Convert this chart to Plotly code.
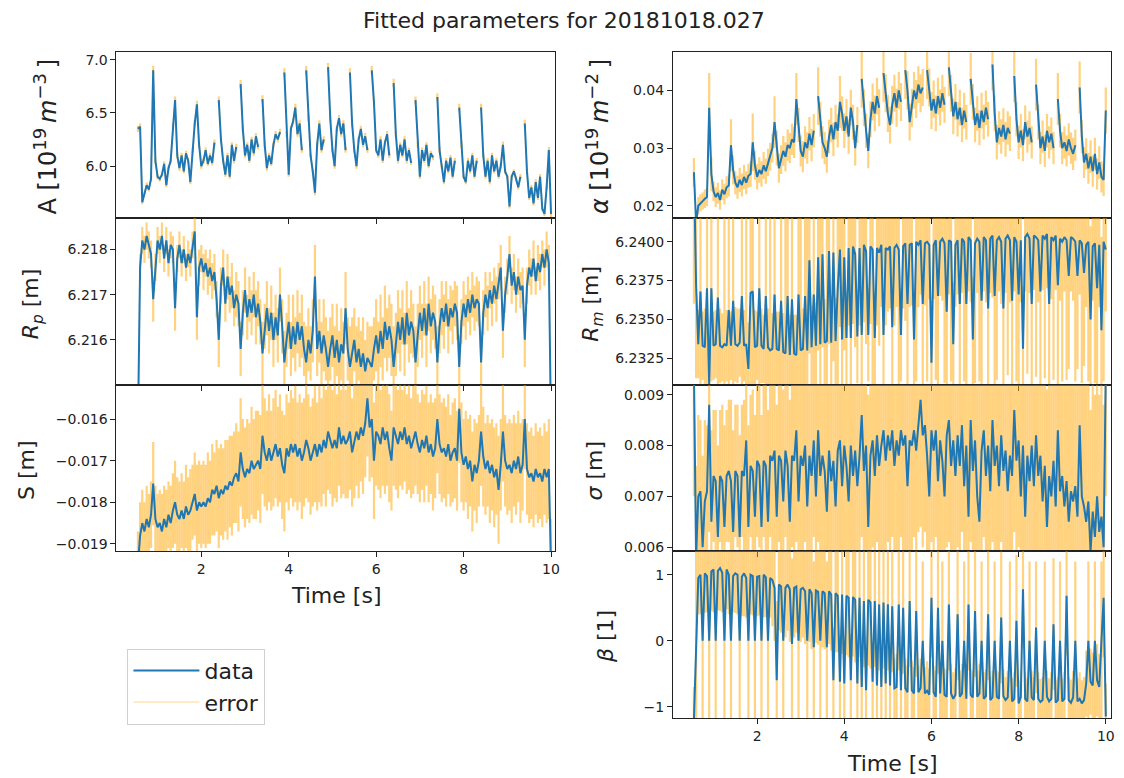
import plotly.graph_objects as go

# ---------------- data ----------------
time = [
    0.55, 0.60, 0.65, 0.70, 0.75, 0.80, 0.85, 0.90, 0.95, 1.00,
    1.05, 1.10, 1.15, 1.20, 1.25, 1.30, 1.35, 1.40, 1.45, 1.50,
    1.55, 1.60, 1.65, 1.70, 1.75, 1.80, 1.85, 1.90, 1.95, 2.00,
    2.05, 2.10, 2.15, 2.20, 2.25, 2.30, 2.35, 2.40, 2.45, 2.50,
    2.55, 2.60, 2.65, 2.70, 2.75, 2.80, 2.85, 2.90, 2.95, 3.00,
    3.05, 3.10, 3.15, 3.20, 3.25, 3.30, 3.35, 3.40, 3.45, 3.50,
    3.55, 3.60, 3.65, 3.70, 3.75, 3.80, 3.85, 3.90, 3.95, 4.00,
    4.05, 4.10, 4.15, 4.20, 4.25, 4.30, 4.35, 4.40, 4.45, 4.50,
    4.55, 4.60, 4.65, 4.70, 4.75, 4.80, 4.85, 4.90, 4.95, 5.00,
    5.05, 5.10, 5.15, 5.20, 5.25, 5.30, 5.35, 5.40, 5.45, 5.50,
    5.55, 5.60, 5.65, 5.70, 5.75, 5.80, 5.85, 5.90, 5.95, 6.00,
    6.05, 6.10, 6.15, 6.20, 6.25, 6.30, 6.35, 6.40, 6.45, 6.50,
    6.55, 6.60, 6.65, 6.70, 6.75, 6.80, 6.85, 6.90, 6.95, 7.00,
    7.05, 7.10, 7.15, 7.20, 7.25, 7.30, 7.35, 7.40, 7.45, 7.50,
    7.55, 7.60, 7.65, 7.70, 7.75, 7.80, 7.85, 7.90, 7.95, 8.00,
    8.05, 8.10, 8.15, 8.20, 8.25, 8.30, 8.35, 8.40, 8.45, 8.50,
    8.55, 8.60, 8.65, 8.70, 8.75, 8.80, 8.85, 8.90, 8.95, 9.00,
    9.05, 9.10, 9.15, 9.20, 9.25, 9.30, 9.35, 9.40, 9.45, 9.50,
    9.55, 9.60, 9.65, 9.70, 9.75, 9.80, 9.85, 9.90, 9.95, 10.00,
]

A = [
    6.35, 6.37, 5.66, 5.75, 5.82, 5.78, 5.88, 6.90, 6.05, 5.90,
    5.88, 5.92, 6.02, 5.82, 5.98, 6.05, 6.38, 6.62, 6.10, 5.98,
    6.10, 5.95, 6.12, 6.05, 5.85, 6.15, 6.40, 6.58, 6.20, 6.00,
    6.05, 6.15, 6.02, 6.10, 6.03, 6.22, None, 6.62, 6.25, 6.05,
    5.92, 6.10, 5.90, 6.20, 6.05, 6.18, None, 6.77, 6.35, 6.10,
    6.20, 6.05, 6.25, 6.12, 6.28, 6.18, None, 6.63, 6.20, 5.98,
    6.10, 6.02, 6.20, 6.30, 6.25, 6.32, None, 6.88, 6.30, 5.92,
    6.35, 6.42, 6.55, 6.30, 6.40, 6.15, None, 6.90, 6.45, 6.10,
    5.95, 5.75, 6.20, 6.40, 6.15, 6.25, None, 6.93, 6.45, 6.15,
    6.00, 6.35, 6.45, 6.30, 6.40, 6.15, None, 6.88, 6.40, 6.15,
    6.00, 6.25, 6.35, 6.20, 6.28, 6.15, None, 6.90, 6.60, 6.15,
    6.10, 6.25, 6.05, 6.22, 6.30, 6.10, None, 6.78, 6.30, 6.05,
    6.20, 6.10, 6.25, 6.05, 6.15, 6.03, None, 6.62, 6.20, 5.90,
    6.15, 6.05, 6.20, 6.00, 6.12, 6.08, None, 6.65, 6.15, 6.00,
    5.85, 6.05, 5.95, 6.08, 5.90, 6.05, None, 6.55, 6.20, 5.90,
    5.85, 6.05, 5.95, 6.10, 5.90, 6.05, None, 6.55, 6.10, 5.90,
    6.05, 5.85, 6.10, 5.95, 6.05, 5.90, 6.00, 6.20, 5.95, 5.90,
    5.62, 5.90, 5.95, 5.88, 5.80, 5.90, None, 6.40, 5.95, 5.70,
    5.80, 5.65, 5.85, 5.70, 5.90, 5.60, 5.55, 5.80, 6.15, 5.55,
]
A_err = [
    0.03, 0.03, 0.02, 0.02, 0.025, 0.02, 0.025, 0.04, 0.03, 0.025,
    0.025, 0.02, 0.025, 0.02, 0.025, 0.025, 0.03, 0.035, 0.03, 0.025,
    0.025, 0.02, 0.025, 0.025, 0.02, 0.025, 0.03, 0.035, 0.03, 0.025,
    0.025, 0.025, 0.02, 0.025, 0.025, 0.03, 0, 0.035, 0.03, 0.025,
    0.02, 0.025, 0.02, 0.025, 0.025, 0.03, 0, 0.04, 0.03, 0.025,
    0.025, 0.02, 0.025, 0.025, 0.03, 0.025, 0, 0.035, 0.03, 0.025,
    0.025, 0.02, 0.025, 0.03, 0.025, 0.03, 0, 0.04, 0.03, 0.02,
    0.03, 0.03, 0.035, 0.025, 0.03, 0.025, 0, 0.04, 0.03, 0.025,
    0.02, 0.025, 0.025, 0.03, 0.025, 0.03, 0, 0.04, 0.03, 0.025,
    0.025, 0.03, 0.03, 0.025, 0.03, 0.025, 0, 0.04, 0.03, 0.025,
    0.025, 0.025, 0.03, 0.025, 0.03, 0.025, 0, 0.04, 0.035, 0.025,
    0.025, 0.03, 0.02, 0.025, 0.03, 0.025, 0, 0.04, 0.03, 0.025,
    0.025, 0.02, 0.03, 0.025, 0.025, 0.02, 0, 0.035, 0.03, 0.02,
    0.025, 0.02, 0.025, 0.02, 0.025, 0.025, 0, 0.035, 0.03, 0.025,
    0.02, 0.025, 0.02, 0.025, 0.02, 0.025, 0, 0.035, 0.03, 0.02,
    0.02, 0.025, 0.02, 0.025, 0.02, 0.025, 0, 0.035, 0.025, 0.02,
    0.025, 0.02, 0.025, 0.02, 0.025, 0.02, 0.025, 0.03, 0.025, 0.02,
    0.02, 0.025, 0.02, 0.025, 0.02, 0.025, 0, 0.035, 0.025, 0.02,
    0.025, 0.02, 0.025, 0.02, 0.025, 0.02, 0.02, 0.025, 0.03, 0.03,
]

alpha = [
    0.0258, 0.0170, 0.0200, 0.0205, 0.0208, 0.0212, 0.0215, 0.0370, 0.0255, 0.0225,
    0.0215, 0.0222, 0.0210, 0.0228, 0.0220, 0.0232, 0.0235, 0.0305, 0.0262, 0.0240,
    0.0232, 0.0245, 0.0236, 0.0250, 0.0240, 0.0252, 0.0255, 0.0310, 0.0270, 0.0250,
    0.0262, 0.0255, 0.0270, 0.0260, 0.0275, 0.0285, 0.0300, 0.0345, 0.0300, 0.0265,
    0.0280, 0.0295, 0.0285, 0.0305, 0.0300, 0.0315, 0.0310, 0.0385, 0.0340, 0.0295,
    0.0285, 0.0310, 0.0300, 0.0325, 0.0305, 0.0330, None, 0.0390, 0.0350, 0.0310,
    0.0300, 0.0285, 0.0320, 0.0340, 0.0315, 0.0345, 0.0330, 0.0380, 0.0360, 0.0330,
    0.0355, 0.0320, 0.0370, 0.0345, 0.0300, 0.0340, None, 0.0420, 0.0370, 0.0330,
    0.0295, 0.0350, 0.0380, 0.0360, 0.0390, 0.0370, None, 0.0430, 0.0395, 0.0360,
    0.0340, 0.0375, 0.0395, 0.0370, 0.0400, 0.0380, None, 0.0435, 0.0400, 0.0345,
    0.0370, 0.0400, 0.0385, 0.0410, 0.0395, 0.0405, None, 0.0435, 0.0405, 0.0365,
    0.0385, 0.0360, 0.0390, 0.0370, 0.0395, 0.0375, None, 0.0440, 0.0395, 0.0355,
    0.0380, 0.0350, 0.0370, 0.0340, 0.0365, 0.0345, None, 0.0420, 0.0380, 0.0340,
    0.0360, 0.0335, 0.0365, 0.0345, 0.0370, 0.0350, None, 0.0445, 0.0360, 0.0310,
    0.0335, 0.0320, 0.0340, 0.0315, 0.0335, 0.0325, None, 0.0425, 0.0350, 0.0310,
    0.0330, 0.0305, 0.0345, 0.0320, 0.0335, 0.0310, None, 0.0410, 0.0345, 0.0300,
    0.0320, 0.0295, 0.0330, 0.0310, 0.0325, 0.0300, None, 0.0385, 0.0330, 0.0300,
    0.0310, 0.0295, 0.0315, 0.0300, 0.0290, 0.0305, None, 0.0405, 0.0320, 0.0275,
    0.0290, 0.0265, 0.0285, 0.0260, 0.0290, 0.0255, 0.0275, 0.0250, 0.0245, 0.0365,
]
alpha_err = [
    0.0025, 0.0020, 0.0015, 0.0015, 0.0015, 0.0016, 0.0016, 0.0060, 0.0030, 0.0017,
    0.0017, 0.0018, 0.0017, 0.0018, 0.0018, 0.0019, 0.0019, 0.0045, 0.0025, 0.0020,
    0.0020, 0.0021, 0.0020, 0.0021, 0.0020, 0.0021, 0.0022, 0.0050, 0.0025, 0.0022,
    0.0022, 0.0022, 0.0023, 0.0022, 0.0024, 0.0024, 0.0025, 0.0045, 0.0030, 0.0025,
    0.0025, 0.0026, 0.0025, 0.0027, 0.0026, 0.0027, 0.0027, 0.0045, 0.0030, 0.0027,
    0.0027, 0.0028, 0.0027, 0.0029, 0.0028, 0.0029, 0, 0.0050, 0.0030, 0.0028,
    0.0028, 0.0028, 0.0029, 0.0030, 0.0029, 0.0030, 0.0029, 0.0045, 0.0030, 0.0030,
    0.0030, 0.0030, 0.0031, 0.0030, 0.0030, 0.0031, 0, 0.0050, 0.0032, 0.0030,
    0.0030, 0.0031, 0.0032, 0.0031, 0.0032, 0.0032, 0, 0.0050, 0.0033, 0.0032,
    0.0032, 0.0033, 0.0032, 0.0033, 0.0032, 0.0033, 0, 0.0050, 0.0033, 0.0032,
    0.0033, 0.0032, 0.0033, 0.0032, 0.0033, 0.0032, 0, 0.0050, 0.0033, 0.0032,
    0.0032, 0.0031, 0.0032, 0.0031, 0.0032, 0.0031, 0, 0.0050, 0.0032, 0.0031,
    0.0031, 0.0030, 0.0031, 0.0030, 0.0031, 0.0030, 0, 0.0045, 0.0031, 0.0030,
    0.0030, 0.0030, 0.0031, 0.0030, 0.0030, 0.0030, 0, 0.0045, 0.0031, 0.0030,
    0.0029, 0.0030, 0.0029, 0.0030, 0.0029, 0.0030, 0, 0.0045, 0.0030, 0.0029,
    0.0029, 0.0028, 0.0029, 0.0028, 0.0029, 0.0028, 0, 0.0045, 0.0030, 0.0028,
    0.0028, 0.0028, 0.0029, 0.0028, 0.0028, 0.0028, 0, 0.0045, 0.0029, 0.0028,
    0.0028, 0.0027, 0.0028, 0.0027, 0.0028, 0.0027, 0, 0.0045, 0.0029, 0.0027,
    0.0027, 0.0027, 0.0028, 0.0027, 0.0028, 0.0027, 0.0028, 0.0027, 0.0028, 0.0040,
]

Rp = [
    6.2140, 6.2176, 6.2182, 6.2180, 6.2183, 6.2181, 6.2179, 6.2169, 6.2176, 6.2182,
    6.2180, 6.2183, 6.2178, 6.2182, 6.2177, 6.2181, 6.2180, 6.2167, 6.2178, 6.2181,
    6.2177, 6.2180, 6.2176, 6.2179, 6.2177, 6.2181, 6.2184, 6.2165, 6.2176, 6.2178,
    6.2175, 6.2177, 6.2174, 6.2176, 6.2173, 6.2175, 6.2169, 6.2160, 6.2172, 6.2176,
    6.2168, 6.2174, 6.2170, 6.2172, 6.2167, 6.2170, 6.2168, 6.2158, 6.2166, 6.2171,
    6.2165, 6.2169, 6.2166, 6.2170, 6.2165, 6.2168, 6.2164, 6.2157, 6.2163, 6.2167,
    6.2162, 6.2166, 6.2160, 6.2165, 6.2161, 6.2170, 6.2163, 6.2155, 6.2160, 6.2164,
    6.2158, 6.2163, 6.2159, 6.2164, 6.2160, 6.2163, 6.2158, 6.2155, 6.2160, 6.2157,
    6.2162, 6.2174, 6.2158, 6.2162, 6.2157, 6.2161, 6.2158, 6.2154, 6.2158, 6.2161,
    6.2156, 6.2160, 6.2155, 6.2159, 6.2157, 6.2167, 6.2158, 6.2154, 6.2157, 6.2160,
    6.2155, 6.2158, 6.2154, 6.2157, 6.2153, 6.2156, 6.2155, 6.2154, 6.2158, 6.2161,
    6.2157, 6.2162, 6.2158, 6.2164, 6.2160, 6.2163, 6.2160, 6.2154, 6.2159, 6.2164,
    6.2160, 6.2165, 6.2159, 6.2166, 6.2161, 6.2164, 6.2162, 6.2155, 6.2161, 6.2166,
    6.2162, 6.2167, 6.2161, 6.2168, 6.2163, 6.2166, 6.2164, 6.2155, 6.2163, 6.2167,
    6.2164, 6.2168, 6.2163, 6.2167, 6.2165, 6.2168, 6.2166, 6.2154, 6.2164, 6.2168,
    6.2165, 6.2169, 6.2166, 6.2170, 6.2167, 6.2169, 6.2168, 6.2155, 6.2166, 6.2170,
    6.2167, 6.2171, 6.2168, 6.2172, 6.2169, 6.2173, 6.2176, 6.2162, 6.2170, 6.2174,
    6.2179, 6.2172, 6.2175, 6.2170, 6.2174, 6.2171, 6.2172, 6.2160, 6.2172, 6.2176,
    6.2174, 6.2178, 6.2173, 6.2177, 6.2175, 6.2179, 6.2176, 6.2180, 6.2177, 6.2140,
]
Rp_err = [
    0.0004, 0.0003, 0.0003, 0.0003, 0.0003, 0.0003, 0.0003, 0.0005, 0.0003, 0.0003,
    0.0003, 0.0003, 0.0003, 0.0003, 0.0003, 0.0003, 0.0003, 0.0005, 0.0003, 0.0003,
    0.0003, 0.0003, 0.0003, 0.0003, 0.0003, 0.0003, 0.0004, 0.0005, 0.0004, 0.0003,
    0.0004, 0.0003, 0.0004, 0.0004, 0.0004, 0.0004, 0.0004, 0.0006, 0.0004, 0.0004,
    0.0004, 0.0005, 0.0004, 0.0005, 0.0004, 0.0005, 0.0005, 0.0006, 0.0005, 0.0005,
    0.0005, 0.0005, 0.0005, 0.0005, 0.0006, 0.0005, 0.0005, 0.0007, 0.0005, 0.0006,
    0.0005, 0.0006, 0.0006, 0.0005, 0.0006, 0.0006, 0.0006, 0.0007, 0.0006, 0.0006,
    0.0006, 0.0007, 0.0006, 0.0007, 0.0006, 0.0007, 0.0006, 0.0008, 0.0007, 0.0006,
    0.0007, 0.0007, 0.0006, 0.0007, 0.0007, 0.0008, 0.0007, 0.0008, 0.0007, 0.0007,
    0.0007, 0.0008, 0.0007, 0.0008, 0.0007, 0.0008, 0.0007, 0.0009, 0.0008, 0.0007,
    0.0008, 0.0007, 0.0008, 0.0008, 0.0007, 0.0008, 0.0008, 0.0009, 0.0007, 0.0008,
    0.0007, 0.0008, 0.0007, 0.0008, 0.0007, 0.0007, 0.0008, 0.0009, 0.0007, 0.0007,
    0.0007, 0.0006, 0.0007, 0.0007, 0.0006, 0.0007, 0.0006, 0.0008, 0.0007, 0.0006,
    0.0006, 0.0006, 0.0007, 0.0006, 0.0006, 0.0006, 0.0006, 0.0008, 0.0006, 0.0006,
    0.0006, 0.0005, 0.0006, 0.0005, 0.0006, 0.0005, 0.0006, 0.0007, 0.0005, 0.0005,
    0.0005, 0.0005, 0.0005, 0.0005, 0.0005, 0.0005, 0.0005, 0.0007, 0.0005, 0.0005,
    0.0005, 0.0004, 0.0005, 0.0004, 0.0005, 0.0004, 0.0005, 0.0006, 0.0004, 0.0004,
    0.0004, 0.0004, 0.0004, 0.0004, 0.0004, 0.0004, 0.0004, 0.0006, 0.0004, 0.0004,
    0.0004, 0.0004, 0.0003, 0.0004, 0.0004, 0.0003, 0.0004, 0.0004, 0.0004, 0.0004,
]

S = [
    -0.0195, -0.0188, -0.0185, -0.0187, -0.0184, -0.0186, -0.0183, -0.01755, -0.0184, -0.0186,
    -0.0185, -0.0187, -0.0184, -0.0186, -0.0183, -0.0185, -0.0182, -0.0180, -0.0183, -0.0184,
    -0.0182, -0.0184, -0.0181, -0.0183, -0.0182, -0.0180, -0.0178, -0.0182, -0.0180, -0.0181,
    -0.0180, -0.0181, -0.0179, -0.0180, -0.0177, -0.0178, -0.0176, -0.0179, -0.0177, -0.0178,
    -0.0176, -0.0177, -0.0175, -0.0176, -0.0174, -0.0173, -0.0175, -0.0168, -0.0172, -0.0174,
    -0.0172, -0.0173, -0.0170, -0.0172, -0.0171, -0.0170, -0.0172, -0.0164, -0.0168, -0.0170,
    -0.0167, -0.0170, -0.0168, -0.0166, -0.0169, -0.0167, -0.0171, -0.0173, -0.0167, -0.0169,
    -0.0166, -0.0168, -0.0166, -0.0169, -0.0167, -0.0170, -0.0168, -0.0165, -0.0167, -0.0170,
    -0.0168, -0.0166, -0.0169, -0.0166, -0.0168, -0.0165, -0.0167, -0.0163, -0.0165, -0.0167,
    -0.0165, -0.0167, -0.0162, -0.0166, -0.0164, -0.0166, -0.0165, -0.0163, -0.0168, -0.0165,
    -0.0163, -0.0165, -0.0162, -0.0164, -0.0161, -0.0155, -0.0162, -0.0160, -0.0170, -0.0163,
    -0.0164, -0.0166, -0.0162, -0.0165, -0.0163, -0.0167, -0.0170, -0.0162, -0.0164, -0.0166,
    -0.0163, -0.0165, -0.0162, -0.0166, -0.0164, -0.0167, -0.0165, -0.0163, -0.0166, -0.0168,
    -0.0165, -0.0167, -0.0164, -0.0168, -0.0166, -0.0169, -0.0167, -0.0160, -0.0166, -0.0168,
    -0.0167, -0.0169, -0.0166, -0.0170, -0.0168, -0.0167, -0.0170, -0.01575, -0.0168, -0.0171,
    -0.0169, -0.0172, -0.0170, -0.0175, -0.0171, -0.0173, -0.0170, -0.0163, -0.0169, -0.0172,
    -0.0170, -0.0173, -0.0171, -0.0174, -0.0172, -0.0177, -0.0171, -0.0163, -0.0170, -0.0172,
    -0.0171, -0.0173, -0.0170, -0.0172, -0.0169, -0.0173, -0.0171, -0.0160, -0.0172, -0.0174,
    -0.0173, -0.0175, -0.0172, -0.0174, -0.0173, -0.0175, -0.0172, -0.0174, -0.0172, -0.0196,
]
S_err = [
    0.0008, 0.0008, 0.0008, 0.0007, 0.0008, 0.0008, 0.0008, 0.0010, 0.0008, 0.0008,
    0.0008, 0.0009, 0.0008, 0.0009, 0.0008, 0.0009, 0.0009, 0.0010, 0.0009, 0.0009,
    0.0009, 0.0009, 0.0010, 0.0009, 0.0010, 0.0009, 0.0010, 0.0011, 0.0010, 0.0010,
    0.0010, 0.0010, 0.0011, 0.0010, 0.0011, 0.0010, 0.0011, 0.0012, 0.0011, 0.0011,
    0.0011, 0.0012, 0.0011, 0.0012, 0.0011, 0.0012, 0.0012, 0.0013, 0.0012, 0.0012,
    0.0012, 0.0012, 0.0013, 0.0012, 0.0013, 0.0012, 0.0013, 0.0014, 0.0013, 0.0012,
    0.0013, 0.0012, 0.0013, 0.0013, 0.0012, 0.0013, 0.0013, 0.0014, 0.0013, 0.0013,
    0.0013, 0.0013, 0.0014, 0.0013, 0.0013, 0.0014, 0.0013, 0.0014, 0.0013, 0.0013,
    0.0013, 0.0014, 0.0013, 0.0014, 0.0013, 0.0013, 0.0014, 0.0014, 0.0013, 0.0014,
    0.0014, 0.0013, 0.0014, 0.0013, 0.0014, 0.0013, 0.0014, 0.0014, 0.0013, 0.0014,
    0.0013, 0.0014, 0.0013, 0.0014, 0.0013, 0.0014, 0.0013, 0.0014, 0.0014, 0.0013,
    0.0013, 0.0013, 0.0014, 0.0013, 0.0013, 0.0013, 0.0012, 0.0014, 0.0013, 0.0013,
    0.0013, 0.0012, 0.0013, 0.0012, 0.0013, 0.0012, 0.0013, 0.0013, 0.0012, 0.0012,
    0.0012, 0.0013, 0.0012, 0.0012, 0.0012, 0.0013, 0.0012, 0.0013, 0.0012, 0.0012,
    0.0012, 0.0012, 0.0012, 0.0011, 0.0012, 0.0012, 0.0012, 0.0013, 0.0012, 0.0011,
    0.0011, 0.0012, 0.0011, 0.0012, 0.0011, 0.0012, 0.0011, 0.0013, 0.0012, 0.0011,
    0.0011, 0.0012, 0.0011, 0.0012, 0.0011, 0.0013, 0.0011, 0.0012, 0.0011, 0.0011,
    0.0011, 0.0012, 0.0011, 0.0011, 0.0011, 0.0012, 0.0011, 0.0012, 0.0011, 0.0011,
    0.0011, 0.0011, 0.0011, 0.0011, 0.0011, 0.0011, 0.0011, 0.0011, 0.0012, 0.0012,
]

Rm = [
    6.2450, 6.2372, 6.2334, 6.2368, 6.2333, 6.2332, 6.2370, 6.2308, 6.2370, 6.2333,
    6.2334, 6.2364, 6.2333, 6.2332, 6.2334, 6.2333, 6.2356, 6.2333, 6.2362, 6.2334,
    6.2333, 6.2335, 6.2365, 6.2333, 6.2334, 6.2318, 6.2367, 6.2368, 6.2332, 6.2333,
    6.2370, 6.2333, 6.2331, 6.2365, 6.2332, 6.2330, 6.2331, 6.2366, 6.2331, 6.2330,
    6.2362, 6.2329, 6.2328, 6.2365, 6.2327, 6.2363, 6.2328, 6.2327, 6.2366, 6.2330,
    6.2331, 6.2365, 6.2330, 6.2388, 6.2332, 6.2366, 6.2333, 6.2390, 6.2334, 6.2392,
    6.2335, 6.2336, 6.2394, 6.2335, 6.2393, 6.2336, 6.2370, 6.2395, 6.2337, 6.2390,
    6.2338, 6.2396, 6.2338, 6.2397, 6.2392, 6.2339, 6.2396, 6.2340, 6.2398, 6.2394,
    6.2340, 6.2397, 6.2395, 6.2338, 6.2396, 6.2393, 6.2398, 6.2340, 6.2396, 6.2395,
    6.2397, 6.2345, 6.2396, 6.2398, 6.2395, 6.2340, 6.2397, 6.2399, 6.2360, 6.2398,
    6.2399, 6.2337, 6.2400, 6.2398, 6.2401, 6.2360, 6.2399, 6.2400, 6.2398, 6.2322,
    6.2398, 6.2401, 6.2365, 6.2400, 6.2402, 6.2399, 6.2355, 6.2401, 6.2400, 6.2334,
    6.2398, 6.2401, 6.2360, 6.2402, 6.2400, 6.2360, 6.2403, 6.2401, 6.2337, 6.2399,
    6.2402, 6.2400, 6.2362, 6.2403, 6.2401, 6.2357, 6.2402, 6.2404, 6.2365, 6.2401,
    6.2403, 6.2400, 6.2357, 6.2402, 6.2404, 6.2401, 6.2362, 6.2403, 6.2400, 6.2366,
    6.2401, 6.2331, 6.2403, 6.2405, 6.2402, 6.2360, 6.2404, 6.2403, 6.2401, 6.2368,
    6.2404, 6.2402, 6.2405, 6.2360, 6.2403, 6.2401, 6.2404, 6.2372, 6.2402, 6.2400,
    6.2403, 6.2401, 6.2378, 6.2403, 6.2402, 6.2400, 6.2378, 6.2401, 6.2399, 6.2380,
    6.2398, 6.2400, 6.2350, 6.2397, 6.2399, 6.2370, 6.2398, 6.2343, 6.2400, 6.2395,
]
Rm_err = [
    0.0090, 0.0060, 0.0022, 0.0070, 0.0022, 0.0025, 0.0080, 0.0030, 0.0060, 0.0022,
    0.0022, 0.0070, 0.0024, 0.0022, 0.0090, 0.0023, 0.0060, 0.0022, 0.0080, 0.0024,
    0.0024, 0.0022, 0.0070, 0.0023, 0.0090, 0.0030, 0.0060, 0.0080, 0.0024, 0.0022,
    0.0070, 0.0024, 0.0022, 0.0080, 0.0025, 0.0090, 0.0023, 0.0060, 0.0024, 0.0025,
    0.0070, 0.0025, 0.0090, 0.0080, 0.0026, 0.0070, 0.0025, 0.0026, 0.0080, 0.0090,
    0.0026, 0.0070, 0.0090, 0.0060, 0.0027, 0.0080, 0.0028, 0.0060, 0.0090, 0.0060,
    0.0028, 0.0090, 0.0060, 0.0030, 0.0070, 0.0028, 0.0080, 0.0050, 0.0090, 0.0060,
    0.0030, 0.0050, 0.0090, 0.0050, 0.0060, 0.0030, 0.0050, 0.0090, 0.0050, 0.0060,
    0.0030, 0.0050, 0.0090, 0.0030, 0.0050, 0.0060, 0.0040, 0.0090, 0.0050, 0.0040,
    0.0040, 0.0090, 0.0050, 0.0040, 0.0090, 0.0030, 0.0040, 0.0050, 0.0090, 0.0040,
    0.0040, 0.0030, 0.0090, 0.0040, 0.0035, 0.0090, 0.0040, 0.0090, 0.0035, 0.0040,
    0.0035, 0.0090, 0.0080, 0.0035, 0.0040, 0.0090, 0.0060, 0.0035, 0.0090, 0.0040,
    0.0040, 0.0035, 0.0090, 0.0035, 0.0090, 0.0060, 0.0035, 0.0040, 0.0040, 0.0090,
    0.0035, 0.0090, 0.0070, 0.0035, 0.0040, 0.0090, 0.0035, 0.0040, 0.0070, 0.0090,
    0.0035, 0.0040, 0.0090, 0.0035, 0.0090, 0.0040, 0.0070, 0.0035, 0.0090, 0.0070,
    0.0040, 0.0040, 0.0035, 0.0090, 0.0035, 0.0080, 0.0035, 0.0090, 0.0040, 0.0070,
    0.0035, 0.0090, 0.0035, 0.0080, 0.0040, 0.0090, 0.0035, 0.0070, 0.0040, 0.0090,
    0.0035, 0.0090, 0.0060, 0.0035, 0.0040, 0.0090, 0.0060, 0.0035, 0.0090, 0.0060,
    0.0040, 0.0090, 0.0060, 0.0035, 0.0090, 0.0070, 0.0040, 0.0060, 0.0090, 0.0040,
]

sigma = [
    0.0095, 0.0058, 0.0070, 0.0071, 0.0060, 0.0069, 0.0071, 0.0088, 0.0065, 0.0074,
    0.0073, 0.0062, 0.0074, 0.0073, 0.0064, 0.0074, 0.0075, 0.0073, 0.0063, 0.0075,
    0.0074, 0.0062, 0.0075, 0.0074, 0.0081, 0.0064, 0.0076, 0.0075, 0.0066, 0.0077,
    0.0076, 0.0064, 0.0077, 0.0076, 0.0065, 0.0078, 0.0077, 0.0079, 0.0066, 0.0078,
    0.0077, 0.0069, 0.0079, 0.0076, 0.0065, 0.0078, 0.0077, 0.0083, 0.0069, 0.0078,
    0.0076, 0.0080, 0.0068, 0.0078, 0.0074, 0.0081, 0.0070, 0.0083, 0.0074, 0.0078,
    0.0075, 0.0067, 0.0079, 0.0073, 0.0077, 0.0068, 0.0079, 0.0081, 0.0072, 0.0080,
    0.0076, 0.0069, 0.0080, 0.0074, 0.0079, 0.0072, 0.0078, 0.0086, 0.0075, 0.0080,
    0.0064, 0.0078, 0.0081, 0.0074, 0.0082, 0.0076, 0.0080, 0.0083, 0.0077, 0.0082,
    0.0079, 0.0083, 0.0076, 0.0081, 0.0078, 0.0083, 0.0080, 0.0082, 0.0072, 0.0081,
    0.0080, 0.0083, 0.0079, 0.0084, 0.0089, 0.0082, 0.0084, 0.0078, 0.0070, 0.0083,
    0.0079, 0.0083, 0.0073, 0.0081, 0.0077, 0.0070, 0.0082, 0.0085, 0.0076, 0.0081,
    0.0074, 0.0082, 0.0076, 0.0084, 0.0072, 0.0080, 0.0066, 0.0085, 0.0075, 0.0081,
    0.0070, 0.0065, 0.0079, 0.0083, 0.0074, 0.0080, 0.0071, 0.0085, 0.0076, 0.0080,
    0.0072, 0.0082, 0.0075, 0.0079, 0.0071, 0.0078, 0.0074, 0.0087, 0.0077, 0.0081,
    0.0070, 0.0080, 0.0066, 0.0078, 0.0073, 0.0080, 0.0072, 0.0082, 0.0074, 0.0078,
    0.0069, 0.0076, 0.0064, 0.0074, 0.0070, 0.0077, 0.0068, 0.0083, 0.0071, 0.0074,
    0.0068, 0.0073, 0.0065, 0.0071, 0.0069, 0.0072, 0.0066, 0.0084, 0.0070, 0.0068,
    0.0065, 0.0069, 0.0059, 0.0067, 0.0062, 0.0070, 0.0063, 0.0066, 0.0060, 0.0095,
]
sigma_err = [
    0.0025, 0.0018, 0.0016, 0.0014, 0.0018, 0.0016, 0.0013, 0.0025, 0.0018, 0.0013,
    0.0014, 0.0018, 0.0013, 0.0015, 0.0020, 0.0013, 0.0014, 0.0016, 0.0020, 0.0013,
    0.0014, 0.0020, 0.0013, 0.0015, 0.0022, 0.0020, 0.0014, 0.0016, 0.0020, 0.0015,
    0.0016, 0.0022, 0.0015, 0.0017, 0.0022, 0.0016, 0.0018, 0.0020, 0.0022, 0.0017,
    0.0018, 0.0022, 0.0017, 0.0019, 0.0024, 0.0018, 0.0020, 0.0022, 0.0024, 0.0019,
    0.0020, 0.0019, 0.0024, 0.0020, 0.0021, 0.0019, 0.0024, 0.0022, 0.0021, 0.0020,
    0.0021, 0.0025, 0.0020, 0.0022, 0.0021, 0.0025, 0.0020, 0.0022, 0.0023, 0.0021,
    0.0022, 0.0025, 0.0021, 0.0023, 0.0021, 0.0024, 0.0022, 0.0024, 0.0023, 0.0022,
    0.0026, 0.0022, 0.0021, 0.0024, 0.0021, 0.0023, 0.0022, 0.0024, 0.0023, 0.0021,
    0.0022, 0.0021, 0.0024, 0.0022, 0.0023, 0.0021, 0.0022, 0.0024, 0.0026, 0.0022,
    0.0022, 0.0021, 0.0023, 0.0021, 0.0025, 0.0022, 0.0021, 0.0023, 0.0026, 0.0022,
    0.0023, 0.0021, 0.0025, 0.0022, 0.0024, 0.0026, 0.0022, 0.0024, 0.0024, 0.0022,
    0.0025, 0.0022, 0.0024, 0.0021, 0.0025, 0.0022, 0.0026, 0.0024, 0.0024, 0.0022,
    0.0026, 0.0027, 0.0022, 0.0021, 0.0025, 0.0022, 0.0026, 0.0024, 0.0024, 0.0022,
    0.0025, 0.0021, 0.0024, 0.0022, 0.0026, 0.0022, 0.0025, 0.0024, 0.0023, 0.0021,
    0.0026, 0.0022, 0.0027, 0.0022, 0.0025, 0.0022, 0.0026, 0.0023, 0.0025, 0.0022,
    0.0026, 0.0023, 0.0027, 0.0024, 0.0026, 0.0023, 0.0026, 0.0024, 0.0025, 0.0024,
    0.0026, 0.0024, 0.0027, 0.0025, 0.0026, 0.0024, 0.0026, 0.0025, 0.0026, 0.0026,
    0.0027, 0.0025, 0.0028, 0.0026, 0.0028, 0.0025, 0.0027, 0.0026, 0.0028, 0.0025,
]

beta = [
    -1.20, 0.00, 0.95, 1.00, 0.00, 1.02, 0.98, 0.00, 1.05, 1.08,
    0.00, 1.06, 1.10, 1.03, 0.00, 1.08, 1.00, 0.00, 0.98, 1.02,
    1.00, 0.00, 0.97, 1.02, 0.95, 0.00, 1.00, 0.98, 0.00, 0.97,
    0.98, 0.00, 1.00, 0.96, 0.00, 0.95, 0.92, 0.80, -0.60, 0.85,
    0.82, 0.00, 0.80, 0.85, 0.78, -0.05, 0.80, 0.82, 0.00, 0.78,
    0.80, 0.75, 0.00, 0.78, 0.72, -0.10, 0.76, 0.74, 0.00, 0.75,
    0.72, -0.10, 0.75, 0.70, -0.60, 0.72, 0.68, -0.62, 0.70, -0.65,
    0.68, 0.65, -0.60, 0.66, 0.62, -0.65, 0.65, -0.70, 0.60, -0.75,
    0.62, 0.58, -0.62, 0.60, -0.68, 0.55, -0.70, 0.58, -0.65, 0.55,
    -0.68, 0.52, -0.72, -0.70, 0.55, -0.75, 0.50, -0.72, -0.78, 0.60,
    -0.75, -0.80, 0.45, -0.78, -0.72, 0.00, -0.80, -0.76, -0.82, 0.65,
    -0.78, -0.85, 0.50, -0.80, 0.00, -0.82, -0.85, 0.55, -0.80, -0.88,
    -0.82, 0.40, -0.85, -0.80, 0.00, -0.88, 0.55, -0.82, -0.86, 0.45,
    -0.85, -0.80, 0.00, -0.88, -0.84, 0.40, -0.90, -0.86, 0.00, -0.85,
    -0.88, 0.35, -0.84, -0.90, -0.86, 0.00, -0.92, -0.88, 0.30, -0.95,
    -0.85, 0.78, -0.88, -0.92, 0.00, -0.86, -0.90, 0.20, -0.88, -0.93,
    -0.90, 0.00, -0.85, -0.92, -0.88, 0.25, -0.94, -0.90, 0.00, -0.92,
    -0.88, 0.68, -0.90, -0.94, -0.86, 0.00, -0.92, -0.88, -0.95, -0.90,
    -0.65, 0.00, -0.62, -0.68, 0.00, -0.60, -0.70, 0.00, 0.65, -1.15,
]
beta_err = [
    0.50, 1.50, 0.55, 0.60, 1.40, 0.60, 0.55, 1.50, 0.60, 0.65,
    1.50, 0.60, 0.65, 0.60, 1.40, 0.60, 0.60, 1.50, 0.55, 0.60,
    0.60, 1.50, 0.60, 0.65, 0.60, 1.40, 0.60, 0.60, 1.50, 0.60,
    0.60, 1.50, 0.65, 0.60, 1.40, 0.60, 0.70, 0.80, 1.20, 0.70,
    0.70, 1.40, 0.75, 0.70, 0.80, 1.30, 0.75, 0.70, 1.40, 0.80,
    0.75, 0.80, 1.40, 0.80, 0.85, 1.30, 0.80, 0.80, 1.40, 0.85,
    0.85, 1.30, 0.80, 0.85, 0.80, 0.90, 0.85, 0.70, 0.90, 0.70,
    0.90, 0.90, 0.70, 0.90, 0.95, 0.60, 0.90, 0.60, 1.00, 0.50,
    1.00, 1.00, 0.60, 1.00, 0.50, 1.00, 0.50, 1.00, 0.55, 1.00,
    0.50, 1.00, 0.45, 0.50, 1.00, 0.45, 1.00, 0.45, 0.40, 1.00,
    0.45, 0.40, 1.00, 0.40, 0.45, 1.20, 0.40, 0.45, 0.40, 0.90,
    0.40, 0.40, 1.00, 0.45, 1.20, 0.40, 0.40, 1.00, 0.45, 0.40,
    0.40, 1.00, 0.40, 0.45, 1.20, 0.40, 1.00, 0.40, 0.40, 1.00,
    0.40, 0.45, 1.20, 0.40, 0.40, 1.00, 0.35, 0.40, 1.20, 0.40,
    0.40, 1.00, 0.40, 0.35, 0.40, 1.20, 0.35, 0.40, 1.00, 0.35,
    0.40, 0.90, 0.40, 0.35, 1.20, 0.40, 0.35, 1.00, 0.40, 0.35,
    0.35, 1.20, 0.40, 0.35, 0.40, 1.00, 0.35, 0.35, 1.20, 0.35,
    0.40, 0.90, 0.35, 0.35, 0.40, 1.20, 0.35, 0.40, 0.35, 0.35,
    0.50, 1.20, 0.50, 0.50, 1.20, 0.55, 0.50, 1.20, 0.90, 0.50,
]

for _arr in (A, A_err, alpha, alpha_err, Rp, Rp_err, S, S_err, Rm, Rm_err,
             sigma, sigma_err, beta, beta_err):
    assert len(_arr) == len(time), len(_arr)

title_text = "Fitted parameters for 20181018.027"
xlabel = "Time [s]"
xtick_vals = [2, 4, 6, 8, 10]
xtick_text = ["2", "4", "6", "8", "10"]

# ---------------- layout helpers (pixel geometry) ----------------
W, H = 1124, 778
LEFT_X = (117, 557)
RIGHT_X = (676, 1116)
ROWS_Y = [(52, 219), (219, 387), (387, 554), (554, 722)]


def xdom(px):
    return [px[0] / W, px[1] / W]


def ydom(py):
    return [1 - py[1] / H, 1 - py[0] / H]


FONT = "DejaVu Sans, Verdana, sans-serif"
BLUE = "#1f77b4"
ORANGE_LINE = "rgba(255,165,0,0.3)"
ORANGE_BAR = "rgba(255,165,0,0.5)"
SUP = '<sup><span style="font-size:18px">{}</span></sup>'
HS = "\u2009"  # thin space, mimics mathtext spacing

panels = [
    # values, errors, column, row, y range, tick values, tick text, label, label x(px), label size
    (A, A_err, "L", 0, [5.513, 7.075], [6.0, 6.5, 7.0], ["6.0", "6.5", "7.0"],
     "A [10" + SUP.format("19") + HS + "<i>m</i>" + SUP.format("−3") + HS + "]", 46, 24),
    (Rp, Rp_err, "L", 1, [6.21500, 6.21870], [6.216, 6.217, 6.218],
     ["6.216", "6.217", "6.218"], "<i>R</i><sub><i>p</i></sub> [m]", 33, 22),
    (S, S_err, "L", 2, [-0.019175, -0.01518], [-0.019, -0.018, -0.017, -0.016],
     ["−0.019", "−0.018", "−0.017", "−0.016"], "S [m]", 26, 22),
    (alpha, alpha_err, "R", 0, [0.0179, 0.0467], [0.02, 0.03, 0.04],
     ["0.02", "0.03", "0.04"],
     "<i>α</i> [10" + SUP.format("19") + HS + "<i>m</i>" + SUP.format("−2") + HS + "]", 600, 24),
    (Rm, Rm_err, "R", 1, [6.23077, 6.24154], [6.2325, 6.2350, 6.2375, 6.2400],
     ["6.2325", "6.2350", "6.2375", "6.2400"], "<i>R</i><sub><i>m</i></sub> [m]", 595, 22),
    (sigma, sigma_err, "R", 2, [0.005922, 0.00919], [0.006, 0.007, 0.008, 0.009],
     ["0.006", "0.007", "0.008", "0.009"], "<i>σ</i> [m]", 597, 22),
    (beta, beta_err, "R", 3, [-1.176, 1.357], [-1, 0, 1], ["−1", "0", "1"],
     "<i>β</i> [1]", 608, 22),
]

fig = go.Figure()
layout = dict(
    width=W, height=H,
    margin=dict(l=0, r=0, t=0, b=0),
    paper_bgcolor="white", plot_bgcolor="white",
    font=dict(family=FONT, color="#222", size=14),
    showlegend=True,
    legend=dict(
        x=128 / W, y=1 - 652 / H, xanchor="left", yanchor="top",
        traceorder="reversed",
        bgcolor="rgba(255,255,255,0.9)", bordercolor="#d0d0d0", borderwidth=1,
        font=dict(size=22, family=FONT, color="#222"),
        itemwidth=66, tracegroupgap=2,
    ),
)
annotations = []

for k, (vals, errs, col, row, yr, tv, tt, lab, labx, labsize) in enumerate(panels):
    idx = k + 1
    xa = "x" if idx == 1 else f"x{idx}"
    ya = "y" if idx == 1 else f"y{idx}"
    xkey = "xaxis" if idx == 1 else f"xaxis{idx}"
    ykey = "yaxis" if idx == 1 else f"yaxis{idx}"
    bottom = (col == "L" and row == 2) or (col == "R" and row == 3)
    xpx = LEFT_X if col == "L" else RIGHT_X
    xr = [0.06, 10.08] if col == "L" else [0.07, 10.12]

    fig.add_trace(go.Scatter(
        x=time, y=vals, xaxis=xa, yaxis=ya, mode="lines", name="error",
        legendgroup="error", showlegend=(k == 0),
        line=dict(color=ORANGE_LINE, width=1.5),
        error_y=dict(type="data", array=errs, visible=True, color=ORANGE_BAR,
                     thickness=2.2, width=0),
        hoverinfo="skip",
    ))
    fig.add_trace(go.Scatter(
        x=time, y=vals, xaxis=xa, yaxis=ya, mode="lines", name="data",
        legendgroup="data", showlegend=(k == 0),
        line=dict(color=BLUE, width=2),
    ))

    layout[xkey] = dict(
        domain=xdom(xpx), anchor=ya, range=xr,
        tickmode="array", tickvals=xtick_vals, ticktext=xtick_text,
        showticklabels=bottom, ticks="outside", ticklen=5, tickwidth=1,
        tickcolor="#222", showline=True, mirror=True, linecolor="#222",
        linewidth=1, showgrid=False, zeroline=False,
        tickfont=dict(size=14, family=FONT, color="#222"),
    )
    layout[ykey] = dict(
        domain=ydom(ROWS_Y[row]), anchor=xa, range=yr,
        tickmode="array", tickvals=tv, ticktext=tt,
        ticks="outside", ticklen=5, tickwidth=1, tickcolor="#222",
        showline=True, mirror=True, linecolor="#222", linewidth=1,
        showgrid=False, zeroline=False,
        tickfont=dict(size=14, family=FONT, color="#222"),
    )
    yc = (ROWS_Y[row][0] + ROWS_Y[row][1]) / 2
    annotations.append(dict(
        text=lab, x=labx / W, y=1 - (yc + 2) / H, xref="paper", yref="paper",
        xanchor="center", yanchor="middle", textangle=-90, showarrow=False,
        font=dict(size=labsize, family=FONT, color="#222"),
    ))
    if bottom:
        annotations.append(dict(
            text=xlabel, x=(xpx[0] + xpx[1]) / 2 / W,
            y=1 - (ROWS_Y[row][1] + 45) / H, xref="paper", yref="paper",
            xanchor="center", yanchor="middle", showarrow=False,
            font=dict(size=22, family=FONT, color="#222"),
        ))

annotations.append(dict(
    text=title_text, x=567 / W, y=1 - 21 / H, xref="paper", yref="paper",
    xanchor="center", yanchor="middle", showarrow=False,
    font=dict(size=22, family=FONT, color="#222"),
))
layout["annotations"] = annotations
fig.update_layout(**layout)
fig.write_html("out.html")
